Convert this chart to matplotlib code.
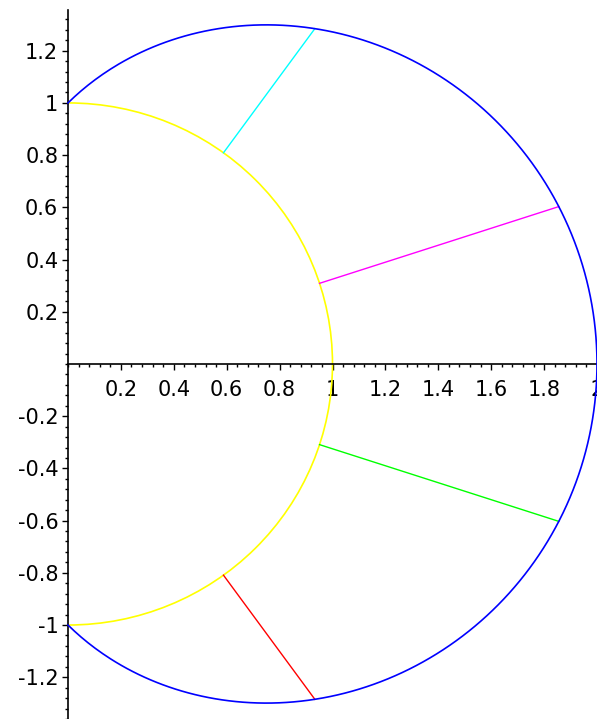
import numpy as np
import matplotlib
matplotlib.use('Agg')
import matplotlib.pyplot as plt
from matplotlib.patches import Arc
from matplotlib.ticker import MultipleLocator, FuncFormatter

# rays drawn between the unit circle and the curve r=1+cos(t), angles in degrees
ray_deg=[54,18,-18,-54]
ray_col=['#00ffff','#ff00ff','#00ff00','#ff0000']

xticks=[0.2,0.4,0.6,0.8,1,1.2,1.4,1.6,1.8,2]
yticks=[-1.2,-1,-0.8,-0.6,-0.4,-0.2,0.2,0.4,0.6,0.8,1,1.2]

plt.rcParams['font.family']=['DejaVu Sans']

fig=plt.figure(figsize=(5.97,7.19),dpi=100)
ax=fig.add_axes([68/597,0,529/597,709/719])
ax.set_xlim(0,2.0)
ax.set_ylim(-1.36,1.356)

# outer curve (polar r=1+cos t, right half)
t=np.linspace(-np.pi/2,np.pi/2,400)
r=1+np.cos(t)
ax.plot(r*np.cos(t),r*np.sin(t),color='#0000ff',lw=1.2,clip_on=False,zorder=3)

# unit semicircle
ax.add_patch(Arc((0,0),2,2,theta1=-90,theta2=90,color='#ffff00',lw=1.2,zorder=2))

for d,c in zip(ray_deg,ray_col):
    a=np.radians(d)
    ra=1+np.cos(a)
    ax.plot([np.cos(a),ra*np.cos(a)],[np.sin(a),ra*np.sin(a)],color=c,lw=1.0,zorder=2)

# maple-style axes through the origin
ax.spines['top'].set_visible(False)
ax.spines['right'].set_visible(False)
ax.spines['bottom'].set_position(('data',0))
ax.spines['left'].set_position(('data',0))
for s in ['bottom','left']:
    ax.spines[s].set_linewidth(1.2)

fmt=FuncFormatter(lambda v,p: ('%g'%v).replace('\u2212','-'))
ax.set_xticks(xticks)
ax.set_yticks(yticks)
ax.xaxis.set_major_formatter(fmt)
ax.yaxis.set_major_formatter(fmt)
ax.xaxis.set_minor_locator(MultipleLocator(0.04))
ax.yaxis.set_minor_locator(MultipleLocator(0.04))
ax.tick_params(which='major',length=4.5,width=1,direction='out',labelsize=15,pad=2.5,colors='black')
ax.tick_params(which='minor',length=2.5,width=1,direction='out')
ax.tick_params(axis='x',which='major',pad=7)

fig.savefig('out.png',dpi=100)
